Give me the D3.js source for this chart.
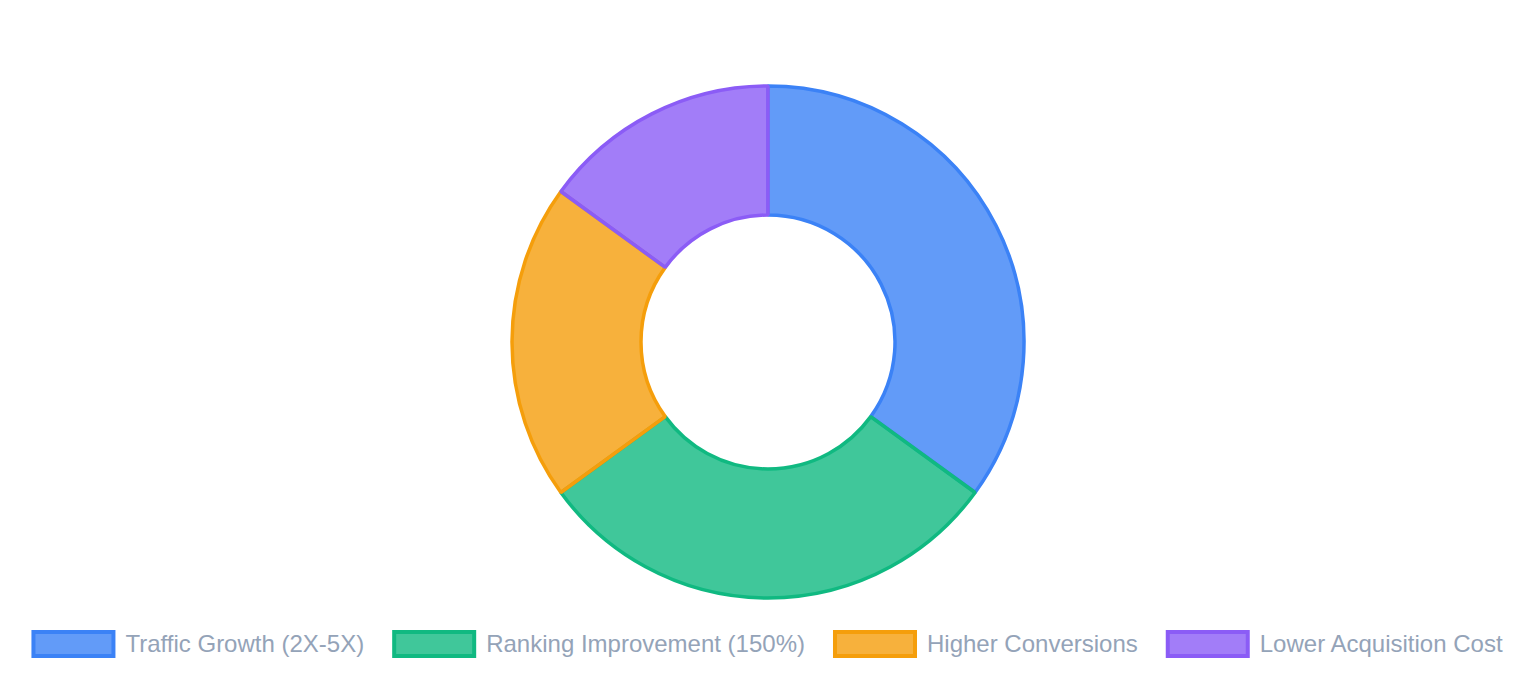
<!DOCTYPE html>
<html>
<head>
<meta charset="utf-8">
<style>
  body { margin: 0; background: #fff; }
  svg { display: block; }
</style>
</head>
<body>
<script src="https://cdn.jsdelivr.net/npm/d3@7/dist/d3.min.js"></script>
<script>
  // chart data
  var labels = ["Traffic Growth (2X-5X)", "Ranking Improvement (150%)", "Higher Conversions", "Lower Acquisition Cost"];
  var values = [35, 30, 20, 15];
  var borderColors = ["#3b82f6", "#10b981", "#f59e0b", "#8b5cf6"];
  var fillColors = ["rgba(59,130,246,0.8)", "rgba(16,185,129,0.8)", "rgba(245,158,11,0.8)", "rgba(139,92,246,0.8)"];

  var width = 1536, height = 676;
  var cx = 768, cy = 342, outerR = 256, innerR = 127;

  var svg = d3.select("body")
          .append("svg")
          .attr("width", width)
          .attr("height", height);

  var pie = d3.pie()
          .sort(null)
          .value(function(d) { return d; });

  var arc = d3.arc()
          .innerRadius(innerR)
          .outerRadius(outerR);

  var g = svg.append("g")
          .attr("transform", "translate(" + cx + "," + cy + ")");

  g.selectAll("path")
    .data(pie(values))
    .enter()
    .append("path")
      .attr("d", arc)
      .attr("fill", function(d, i) { return fillColors[i]; })
      .attr("stroke", function(d, i) { return borderColors[i]; })
      .attr("stroke-width", 3.5)
      .attr("stroke-linejoin", "bevel");

  // legend along the bottom, centred
  var fontSize = 24, boxW = 80, boxH = 24, textGap = 12, itemGap = 30, legendY = 644;

  var legend = svg.append("g");
  var items = legend.selectAll("g.item")
    .data(labels)
    .enter()
    .append("g")
      .attr("class", "item");

  items.append("rect")
      .attr("width", boxW)
      .attr("height", boxH)
      .attr("x", 0)
      .attr("y", legendY - boxH / 2)
      .attr("fill", function(d, i) { return fillColors[i]; })
      .attr("stroke", function(d, i) { return borderColors[i]; })
      .attr("stroke-width", 4);

  items.append("text")
      .attr("x", boxW + textGap)
      .attr("y", legendY)
      .attr("dy", "0.35em")
      .style("font-family", "'Liberation Sans', Arial, Helvetica, sans-serif")
      .style("font-size", fontSize + "px")
      .style("fill", "#94a3b8")
      .text(function(d) { return d; });

  var offsets = [], total = 0;
  items.each(function(d, i) {
    var tw = d3.select(this).select("text").node().getComputedTextLength();
    offsets.push(total);
    total += boxW + textGap + tw + (i < labels.length - 1 ? itemGap : 0);
  });
  var startX = cx - total / 2;
  items.attr("transform", function(d, i) { return "translate(" + (startX + offsets[i]) + ",0)"; });
</script>
</body>
</html>
